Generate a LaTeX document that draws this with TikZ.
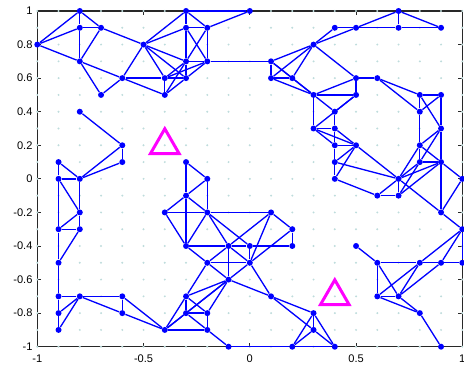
\documentclass[tikz,border=0pt]{standalone}
\usepackage{fontspec}
\setmainfont{Liberation Sans}
\usetikzlibrary{shapes.geometric}

\begin{document}
\begin{tikzpicture}[x=4.25cm, y=3.357cm,
    vtx/.style={circle, fill=netblue, inner sep=0pt, minimum size=0.12cm},
    link/.style={netblue, line width=0.75pt},
    target/.style={regular polygon, regular polygon sides=3, draw=targetcolor, line width=1.7pt, inner sep=0pt, minimum size=0.66cm},
    ticklabel/.style={font=\fontsize{6.3}{7.5}\selectfont, inner sep=0pt}]
    % Define colors
    \definecolor{netblue}{RGB}{0, 0, 255}
    \definecolor{targetcolor}{RGB}{255, 0, 255}
    \definecolor{gridcolor}{RGB}{190, 220, 220}
    \definecolor{axiscolor}{RGB}{40, 40, 40}

    \useasboundingbox (-1.1755, -1.1269) rectangle (1.008, 1.0655);

    % Axes box
    \draw[axiscolor, line width=0.6pt] (-1, -1) rectangle (1, 1);

    % X ticks and labels
    \foreach \x/\label in {-1/-1, -0.5/-0.5, 0/0, 0.5/0.5, 1/1} {
        \draw[axiscolor, line width=0.4pt] (\x, -1) -- ++(0, 0.08cm);
        \draw[axiscolor, line width=0.4pt] (\x, 1) -- ++(0, -0.08cm);
        \node[ticklabel, anchor=north] at ([yshift=-0.15cm]\x, -1) {\label};
    }

    % Y ticks and labels
    \foreach \y/\label in {-1/-1, -0.8/-0.8, -0.6/-0.6, -0.4/-0.4, -0.2/-0.2, 0/0, 0.2/0.2, 0.4/0.4, 0.6/0.6, 0.8/0.8, 1/1} {
        \draw[axiscolor, line width=0.4pt] (-1, \y) -- ++(0.08cm, 0);
        \draw[axiscolor, line width=0.4pt] (1, \y) -- ++(-0.08cm, 0);
        \node[ticklabel, anchor=east] at ([xshift=-0.09cm]-1, \y) {\label};
    }

    % Grid points
    \foreach \i in {0,...,20} {
        \foreach \j in {0,...,20} {
            \fill[gridcolor] (\i/10-1, \j/10-1) circle (0.022cm);
        }
    }

    % Nodes (grid index i-j, x = i/10-1, y = j/10-1)
    \foreach \i/\j in {0/18, 2/20, 2/19, 3/19, 2/17, 4/16, 3/15, 2/14, 5/18,
        7/20, 7/19, 8/19, 7/17, 8/17, 6/16, 7/16, 6/15, 10/20,
        13/18, 14/19, 15/19, 17/20, 17/19, 19/19, 11/17, 11/16, 12/16, 13/15,
        15/16, 15/15, 16/16, 14/14, 18/15, 19/15, 18/14,
        13/13, 14/13, 14/12, 15/12, 14/11, 14/10,
        19/13, 18/12, 18/11, 19/11, 17/10, 20/10, 16/9, 17/9, 19/8, 20/7, 20/5,
        4/12, 4/11, 1/11, 1/10, 2/10, 2/8, 1/7, 2/7, 1/5, 1/3, 2/3, 1/2, 1/1,
        4/3, 4/2, 6/1,
        7/11, 8/10, 7/9, 6/8, 8/8, 11/8, 7/6, 9/6, 10/6, 8/5, 10/5, 9/4,
        7/3, 7/2, 8/2, 8/1, 9/0, 12/7, 12/6, 11/3, 13/2, 13/1, 12/0, 14/0,
        15/6, 16/5, 18/5, 19/5, 16/3, 17/3, 18/2, 19/0} {
        \node[vtx] (n\i-\j) at (\i/10-1, \j/10-1) {};
    }

    % Links
    \foreach \a/\b in {0-18/2-20, 0-18/2-19, 0-18/2-17, 2-20/2-19, 2-20/3-19, 2-19/3-19,
        2-19/2-17, 3-19/2-17, 3-19/5-18, 2-17/4-16, 2-17/3-15, 3-15/4-16, 4-16/5-18,
        2-14/4-12, 4-16/6-16, 4-16/6-15,
        5-18/7-20, 5-18/7-19, 5-18/7-17, 5-18/6-16, 5-18/7-16,
        7-20/10-20, 7-20/7-19, 7-20/8-19, 7-19/8-19, 7-19/7-17, 7-19/8-17,
        8-19/7-17, 8-19/8-17, 8-19/10-20, 7-17/8-17, 8-17/11-17,
        7-17/7-16, 7-17/6-16, 7-17/6-15, 8-17/6-16, 8-17/7-16,
        6-16/7-16, 6-16/6-15, 7-16/6-15} {
        \draw[link] (n\a) -- (n\b);
    }
    \foreach \a/\b in {13-18/14-19, 13-18/15-19, 14-19/15-19, 13-18/11-17, 13-18/11-16,
        13-18/12-16, 13-18/15-16, 11-17/11-16, 11-17/12-16, 11-17/13-15, 11-16/12-16,
        11-16/13-15, 12-16/13-15, 13-15/15-15, 13-15/15-16, 15-16/15-15, 15-16/16-16,
        15-19/17-20, 17-20/17-19, 17-20/19-19, 15-19/17-19, 17-19/19-19,
        16-16/18-15, 16-16/18-14, 18-15/19-15, 18-15/18-14, 18-14/19-15,
        18-15/19-13, 19-15/19-13, 18-14/18-12,
        13-15/13-13, 13-15/14-14, 15-15/14-14, 14-14/14-13, 15-15/13-13,
        13-13/14-13, 13-13/14-12, 13-13/15-12, 14-13/14-12, 14-13/15-12,
        14-12/15-12, 14-12/14-11, 14-11/14-10, 14-11/15-12, 14-10/15-12,
        15-12/17-10, 14-10/16-9, 14-11/17-10} {
        \draw[link] (n\a) -- (n\b);
    }
    \foreach \a/\b in {19-13/18-12, 19-13/18-11, 18-12/18-11, 18-12/19-11, 18-11/19-11,
        18-12/17-10, 18-11/17-10, 18-11/17-9, 19-11/17-10, 19-11/17-9, 19-11/20-10,
        17-10/16-9, 17-10/17-9, 16-9/17-9, 17-10/19-8, 19-8/20-10, 19-8/20-7,
        19-11/19-8, 19-13/19-11,
        4-12/4-11, 4-12/2-10, 4-11/2-10, 1-11/1-10, 1-11/2-10, 1-10/2-10,
        1-10/2-8, 1-10/1-7, 2-10/2-8, 2-8/1-7, 2-8/2-7, 1-7/2-7, 1-7/1-5,
        2-7/1-5, 1-5/1-3, 1-3/2-3, 1-2/2-3, 1-1/2-3, 1-3/1-2, 1-2/1-1,
        2-3/4-3, 2-3/4-2, 4-3/4-2, 4-3/6-1, 4-2/6-1} {
        \draw[link] (n\a) -- (n\b);
    }
    \foreach \a/\b in {7-11/8-10, 7-11/7-9, 8-10/7-9, 8-10/8-8, 7-9/6-8, 7-9/8-8,
        6-8/8-8, 8-8/11-8, 6-8/7-6, 7-9/7-6, 8-8/7-6, 8-8/9-6, 8-8/10-6,
        11-8/9-6, 11-8/10-5, 11-8/12-7, 7-6/9-6, 9-6/10-6, 7-6/8-5, 8-5/10-5,
        8-5/9-6, 8-5/9-4, 9-6/9-4, 9-6/10-5, 10-6/10-5, 10-6/12-6, 12-7/12-6,
        12-7/10-5, 9-4/10-5, 9-4/7-3, 9-4/7-2, 9-4/8-2, 9-4/6-1, 9-4/11-3,
        8-5/7-3, 7-3/7-2, 7-3/6-1, 7-3/8-2, 7-2/8-2, 7-2/6-1, 7-2/8-1, 8-2/8-1,
        6-1/8-1, 8-1/9-0, 9-0/12-0, 12-0/14-0, 10-5/11-3, 11-3/13-2, 11-3/13-1,
        13-2/13-1, 13-2/12-0, 13-2/14-0, 13-1/12-0, 13-1/14-0,
        15-6/16-5, 16-5/18-5, 18-5/19-5, 19-5/20-5, 16-5/16-3, 16-5/17-3,
        16-3/17-3, 16-3/18-5, 16-3/18-2, 17-3/18-5, 17-3/19-5, 17-3/18-2,
        18-2/19-0, 18-5/20-7, 19-5/20-7, 20-7/20-5} {
        \draw[link] (n\a) -- (n\b);
    }

    % Targets
    \node[target] (t1) at (-0.4, 0.2) {};
    \node[target] (t2) at (0.4, -0.7) {};
\end{tikzpicture}
\end{document}
